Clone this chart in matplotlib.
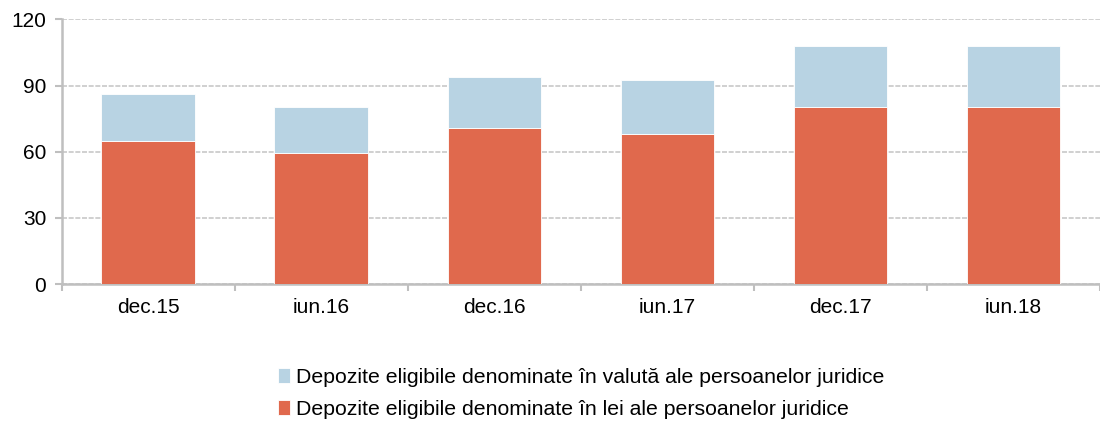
import numpy as np
import matplotlib.pyplot as plt

plt.rcParams['font.family'] = ['Liberation Sans', 'DejaVu Sans']

# Data
categories = ['dec.15', 'iun.16', 'dec.16', 'iun.17', 'dec.17', 'iun.18']
lei = [64.7, 59.3, 70.8, 68.1, 80.3, 80.3]
valuta = [21.5, 21.0, 23.1, 24.5, 27.5, 27.7]
labels = ['Depozite eligibile denominate în valută ale persoanelor juridice',
          'Depozite eligibile denominate în lei ale persoanelor juridice']
yticks = [0, 30, 60, 90, 120]

red = '#E0694D'
blue = '#B8D3E3'
grey = '#BFBFBF'

fig = plt.figure(figsize=(11, 4.22), dpi=100)
ax = fig.add_axes([0.056, 0.327, 0.944, 0.627])

x = np.arange(len(categories))
b_lei = ax.bar(x, lei, width=0.54, color=red, edgecolor='white', linewidth=0.6, zorder=3)
b_val = ax.bar(x, valuta, bottom=lei, width=0.54, color=blue, edgecolor='white', linewidth=0.6, zorder=3)

ax.set_xlim(-0.5, len(categories) - 0.5)
ax.set_ylim(0, 120)
ax.set_yticks(yticks)
ax.set_xticks(x)
ax.set_xticklabels(categories)
ax.set_xticks(np.arange(-0.5, len(categories), 1.0), minor=True)
ax.tick_params(axis='x', which='major', length=0, labelsize=15, pad=10)
ax.tick_params(axis='x', which='minor', length=5, width=1.5, color=grey)
ax.tick_params(axis='y', length=5, width=1.5, color=grey, labelsize=15, pad=6)

ax.yaxis.grid(True, color='#C8C8C8', linestyle=(0, (3, 1)), linewidth=1.2, zorder=0)
for s in ['top', 'right']:
    ax.spines[s].set_visible(False)
for s in ['left', 'bottom']:
    ax.spines[s].set_color(grey)
    ax.spines[s].set_linewidth(1.8)

fig.legend([b_val, b_lei], labels, loc='center', bbox_to_anchor=(0.528, 0.068),
           ncol=1, frameon=False, fontsize=15.3, handlelength=0.6, handleheight=0.75,
           handletextpad=0.25, labelspacing=0.6)

fig.savefig('out.png', dpi=100)
